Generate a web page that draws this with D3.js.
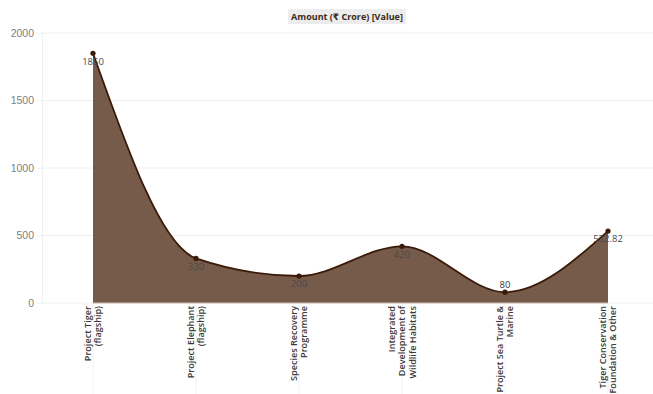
<!DOCTYPE html>
<html>
<head>
<meta charset="utf-8">
<script src="https://cdn.jsdelivr.net/npm/d3@7"></script>
<style>
  html, body { margin: 0; padding: 0; background: #fff; }
  svg { display: block; font-family: "Open Sans", "DejaVu Sans", sans-serif; }
</style>
</head>
<body>
<svg id="chart" width="653" height="394"></svg>
<script>
// Scheme budget allocations (₹ crore)
const categories = [
  ["Project Tiger", "(flagship)"],
  ["Project Elephant", "(flagship)"],
  ["Species Recovery", "Programme"],
  ["Integrated", "Development of", "Wildlife Habitats"],
  ["Project Sea Turtle &", "Marine"],
  ["Tiger Conservation", "Foundation & Other"]
];
const values = [1850, 330, 200, 420, 80, 532.82];
const yTicks = [0, 500, 1000, 1500, 2000];
const title = "Amount (₹ Crore) [Value]";

const svg = d3.select("#chart");
const plot = { left: 42, right: 653, top: 33, bottom: 303 };

const keys = categories.map(c => c.join(" "));
const x = d3.scalePoint().domain(keys).range([93, 608]);
const y = d3.scaleLinear().domain([0, 2000]).range([plot.bottom, plot.top]);

const data = keys.map((k, i) => ({ key: k, lines: categories[i], value: values[i] }));

// horizontal grid
svg.append("g").selectAll("line").data(yTicks).join("line")
  .attr("x1", plot.left).attr("x2", plot.right)
  .attr("y1", d => y(d)).attr("y2", d => y(d))
  .attr("stroke", "#f0f0f0").attr("stroke-width", 1);

// y axis
const yAxis = svg.append("g").attr("transform", `translate(${plot.left},0)`)
  .call(d3.axisLeft(y).tickValues(yTicks).tickFormat(d3.format("d")).tickSize(5).tickPadding(3));
yAxis.select(".domain").attr("stroke", "#f0f0f0");
yAxis.selectAll(".tick line").attr("stroke", "#f0f0f0");
yAxis.selectAll(".tick text").attr("fill", "#808080").attr("font-size", 10.5);

// faint category guides below the axis
svg.append("g").selectAll("line").data(data).join("line")
  .attr("x1", d => x(d.key)).attr("x2", d => x(d.key))
  .attr("y1", plot.bottom).attr("y2", 394)
  .attr("stroke", "#f2f2f2");

// area + line
const curve = d3.curveMonotoneX;
const area = d3.area().curve(curve)
  .x(d => x(d.key)).y0(y(0)).y1(d => y(d.value));
const line = d3.line().curve(curve)
  .x(d => x(d.key)).y(d => y(d.value));

svg.append("path").datum(data).attr("d", area)
  .attr("fill", "#765b4a");
svg.append("line")
  .attr("x1", x(keys[0])).attr("x2", x(keys[keys.length - 1]))
  .attr("y1", y(0)).attr("y2", y(0))
  .attr("stroke", "#c9bcb2").attr("stroke-width", 1);
svg.append("path").datum(data).attr("d", line)
  .attr("fill", "none").attr("stroke", "#3a1a08").attr("stroke-width", 1.8);

svg.append("g").selectAll("circle").data(data).join("circle")
  .attr("cx", d => x(d.key)).attr("cy", d => y(d.value))
  .attr("r", 2.6).attr("fill", "#3a1a08");

// value labels
svg.append("g").selectAll("text").data(data).join("text")
  .attr("x", d => x(d.key))
  .attr("y", d => d.value < 150 ? y(d.value) - 8 : y(d.value) + 8)
  .attr("dy", "0.35em")
  .attr("text-anchor", "middle")
  .attr("font-size", 9.5)
  .attr("fill", d => d.value < 150 ? "#333" : "#4a4a4a")
  .text(d => d3.format("~f")(d.value));

// rotated category labels
const lineGap = 10.5;
const catG = svg.append("g").selectAll("g").data(data).join("g")
  .attr("transform", d => `translate(${x(d.key)},${plot.bottom + 3}) rotate(-90)`);
catG.each(function (d) {
  const n = d.lines.length;
  const t = d3.select(this).append("text")
    .attr("text-anchor", "end")
    .attr("font-size", 9.1)
    .attr("font-weight", 600)
    .attr("fill", "#3a3a3a");
  d.lines.forEach((l, i) => {
    t.append("tspan")
      .attr("x", 0)
      .attr("y", (i - (n - 1) / 2) * lineGap)
      .attr("dy", "0.35em")
      .text(l);
  });
});

// title with background
const tg = svg.append("g");
const tt = tg.append("text")
  .attr("x", 347).attr("y", 17).attr("dy", "0.35em")
  .attr("text-anchor", "middle")
  .attr("font-size", 9).attr("font-weight", 700)
  .attr("fill", "#3b2a20")
  .text(title);
const bb = tt.node().getBBox();
tg.insert("rect", "text")
  .attr("x", bb.x - 3).attr("y", bb.y - 1)
  .attr("width", bb.width + 6).attr("height", bb.height + 2)
  .attr("fill", "#ececec");
</script>
</body>
</html>
